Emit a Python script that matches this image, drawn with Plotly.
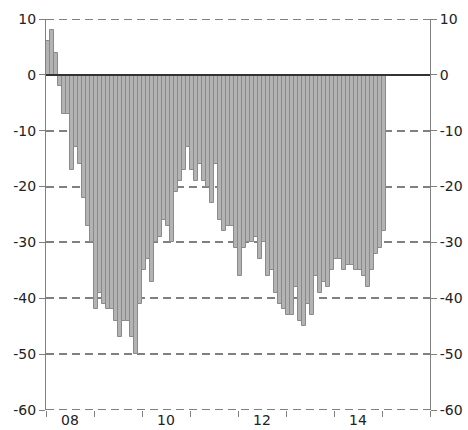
import numpy as np
import plotly.graph_objects as go

# Monthly values, Jan 2008 .. Jan 2015
values = [
    6, 8, 4, -2, -7, -7, -17, -13, -16, -22, -27, -30,
    -42, -39, -41, -42, -42, -44, -47, -44, -44, -47, -50, -41,
    -35, -33, -37, -30, -29, -26, -27, -30, -21, -19, -17, -13,
    -17, -19, -16, -19, -20, -23, -16, -26, -28, -27, -27, -31,
    -36, -31, -30, -30, -29, -33, -30, -36, -35, -39, -41, -42,
    -43, -43, -38, -44, -45, -41, -43, -36, -39, -37, -38, -35,
    -33, -33, -35, -34, -34, -35, -35, -36, -38, -35, -32, -31,
    -28,
]
first_year = 2008
n_years = 8
year_labels = ["08", "10", "12", "14"]
label_years = [2008, 2010, 2012, 2014]
y_ticks = [10, 0, -10, -20, -30, -40, -50, -60]

x = np.arange(len(values))
label_pos = [(yr - first_year) * 12 + 5.5 for yr in label_years]
boundaries = [k * 12 - 0.5 for k in range(n_years + 1)]

FONT = "DejaVu Sans"
GRID = "#808080"
DASH = "8px,5px"

fig = go.Figure()
fig.add_trace(go.Bar(
    x=x, y=values,
    marker=dict(color="#b3b3b3", line=dict(color="#8a8a8a", width=1)),
    width=1, hoverinfo="skip",
))
fig.add_trace(go.Scatter(
    x=[x[0]], y=[0], yaxis="y2", mode="markers",
    marker=dict(opacity=0), hoverinfo="skip", showlegend=False,
))

# dashed lines at the top and bottom edges of the value range
for edge in (max(y_ticks), min(y_ticks)):
    fig.add_hline(y=edge, line=dict(color=GRID, width=2, dash=DASH), layer="below")

yaxis_common = dict(
    range=[min(y_ticks), max(y_ticks)],
    tickvals=y_ticks, ticktext=[str(v) for v in y_ticks],
    ticks="outside", ticklen=6, tickcolor=GRID, tickwidth=1,
    showline=True, linecolor=GRID, linewidth=1,
    tickfont=dict(family=FONT, size=14, color="#222"),
    fixedrange=True, automargin=False,
)

fig.update_layout(
    width=468, height=430,
    margin=dict(l=46, r=38, t=19, b=20),
    paper_bgcolor="white", plot_bgcolor="white",
    showlegend=False, bargap=0,
    xaxis=dict(
        range=[-0.5, n_years * 12 - 0.5],
        tickvals=label_pos, ticktext=year_labels,
        ticks="",
        showgrid=False, zeroline=False, showline=False,
        automargin=False,
        tickfont=dict(family=FONT, size=14, color="#222"),
        minor=dict(tickvals=boundaries, ticks="outside", ticklen=6,
                   tickcolor=GRID, tickwidth=1, showgrid=False),
    ),
    yaxis=dict(
        **yaxis_common, side="left",
        showgrid=True, gridcolor=GRID, gridwidth=2, griddash=DASH,
        zeroline=True, zerolinecolor="#333333", zerolinewidth=2,
        zerolinelayer="above traces",
    ),
    yaxis2=dict(
        **yaxis_common, side="right", overlaying="y", matches="y",
        showgrid=False, zeroline=False,
    ),
)

fig.write_html(
    "out.html",
    config={"displayModeBar": False},
    post_script="document.body.style.margin='0';document.body.style.overflow='hidden';",
)
